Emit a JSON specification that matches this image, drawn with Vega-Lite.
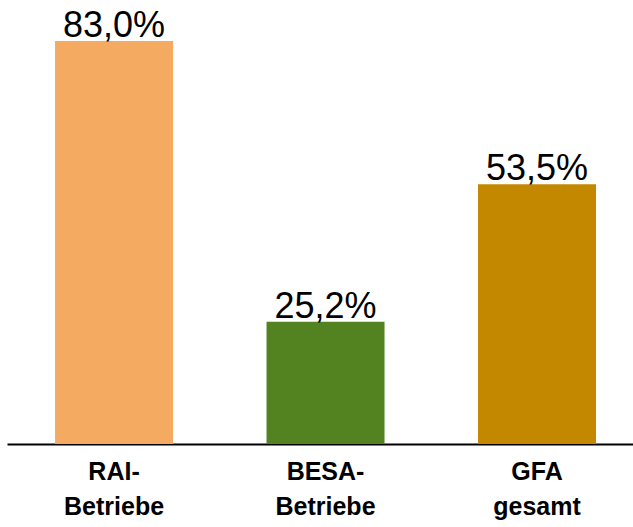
{
  "$schema": "https://vega.github.io/schema/vega-lite/v6.json",
  "width": 626,
  "height": 444,
  "padding": {"left": 7, "right": 0, "top": 0, "bottom": 83},
  "autosize": {"type": "none"},
  "background": "white",
  "config": {"view": {"stroke": null}, "font": "Liberation Sans"},
  "data": {"values": [
    {"gruppe": "RAI-|Betriebe", "anteil": 83.0, "text": "83,0%", "farbe": "#F5AA62"},
    {"gruppe": "BESA-|Betriebe", "anteil": 25.2, "text": "25,2%", "farbe": "#538320"},
    {"gruppe": "GFA|gesamt", "anteil": 53.5, "text": "53,5%", "farbe": "#C48800"}
  ]},
  "encoding": {
    "x": {
      "field": "gruppe", "type": "nominal", "sort": null,
      "scale": {"paddingInner": 0.442, "paddingOuter": 0.201, "align": 0.565},
      "axis": {
        "title": null, "labelAngle": 0, "ticks": false,
        "domainColor": "#000000", "domainWidth": 2, "domainOpacity": 1,
        "labelFont": "Liberation Sans", "labelFontWeight": "bold", "labelFontSize": 25,
        "labelColor": "black", "labelPadding": 15, "labelLineHeight": 35,
        "labelExpr": "split(datum.label, '|')"
      }
    },
    "y": {
      "field": "anteil", "type": "quantitative",
      "scale": {"domain": [0, 91.45], "nice": false},
      "axis": null
    }
  },
  "layer": [
    {"mark": {"type": "bar"}, "encoding": {"color": {"field": "farbe", "type": "nominal", "scale": null}}},
    {"mark": {"type": "text", "baseline": "alphabetic", "dy": -4, "fontSize": 36, "font": "Liberation Sans", "color": "black"},
     "encoding": {"text": {"field": "text"}}}
  ]
}
